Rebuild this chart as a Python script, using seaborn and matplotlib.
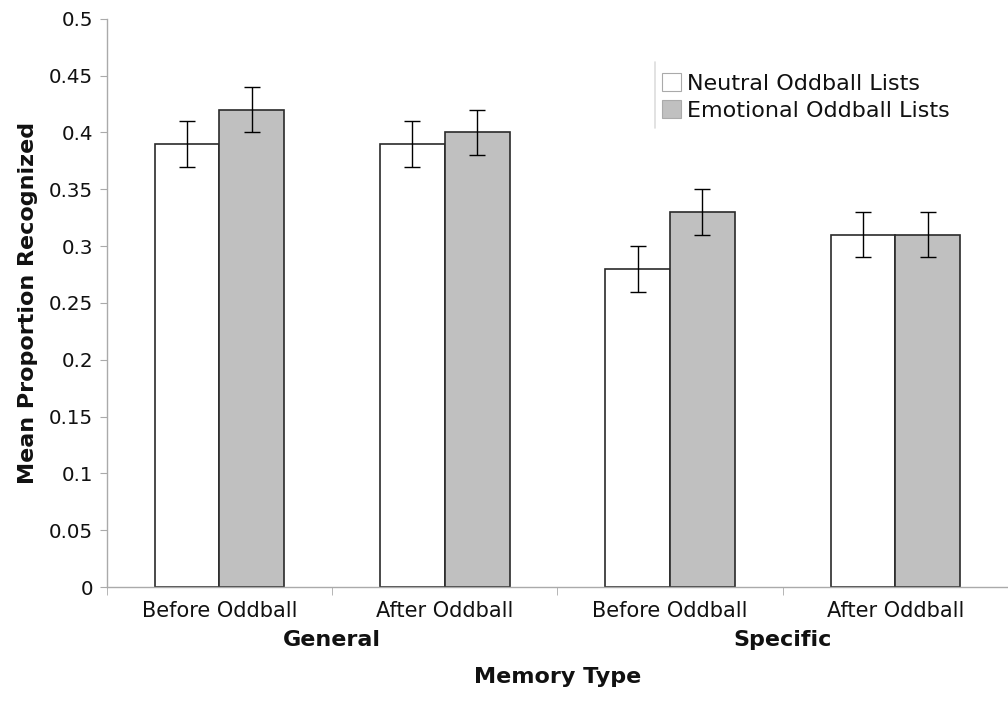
import matplotlib
matplotlib.use("Agg")
import matplotlib.pyplot as plt
import seaborn as sns
import pandas as pd
import numpy as np
from matplotlib.ticker import FixedLocator
from matplotlib.lines import Line2D

# ---------------------------
# Data
# ---------------------------
conditions = ["Before Oddball", "After Oddball", "Before Oddball ", "After Oddball "]
tick_labels = ["Before Oddball", "After Oddball", "Before Oddball", "After Oddball"]
groups = ["General", "Specific"]
series = ["Neutral Oddball Lists", "Emotional Oddball Lists"]
neutral = [0.39, 0.39, 0.28, 0.31]
emotional = [0.42, 0.40, 0.33, 0.31]
neutral_err = [0.02, 0.02, 0.02, 0.02]
emotional_err = [0.02, 0.02, 0.02, 0.02]

df = pd.DataFrame({
    "condition": conditions * 2,
    "list": [series[0]] * 4 + [series[1]] * 4,
    "value": neutral + emotional,
    "err": neutral_err + emotional_err,
})

# ---------------------------
# Plot
# ---------------------------
sns.set_style("white")
plt.rcParams["font.family"] = ["DejaVu Sans"]
plt.rcParams["text.color"] = "#111111"
plt.rcParams["axes.labelcolor"] = "#111111"
plt.rcParams["xtick.labelcolor"] = "#111111"
plt.rcParams["ytick.labelcolor"] = "#111111"

fig = plt.figure(figsize=(10.08, 7.23), dpi=100)
ax = fig.add_axes([0.106, 0.188, 0.894, 0.786])

sns.barplot(data=df, x="condition", y="value", hue="list",
            palette=["white", "#c0c0c0"], edgecolor="#2a2a2a", linewidth=1.2,
            width=0.575, gap=0, errorbar=None, ax=ax)

# error bars on the bar centres seaborn drew, in hue order
for container, s in zip(ax.containers, series):
    errs = df.loc[df["list"] == s, "err"].to_numpy()
    for p, e in zip(container.patches, errs):
        xc = p.get_x() + p.get_width() / 2
        ax.errorbar(xc, p.get_height(), yerr=e, fmt="none", ecolor="black",
                    elinewidth=1, capsize=6, capthick=1)

ax.set_ylim(0, 0.5)
ax.set_xlim(-0.5, 3.5)
ax.set_yticks(np.arange(0, 0.501, 0.05))
ax.set_yticklabels(["0", "0.05", "0.1", "0.15", "0.2", "0.25", "0.3",
                    "0.35", "0.4", "0.45", "0.5"], fontsize=14.3)
ax.tick_params(axis="y", length=5, color="#aaaaaa", pad=5, left=True)

ax.set_xticks(range(4))
ax.set_xticklabels(tick_labels, fontsize=15)
ax.xaxis.set_minor_locator(FixedLocator([-0.5, 0.5, 1.5, 2.5, 3.5]))
ax.tick_params(axis="x", which="major", length=0, pad=10)
ax.tick_params(axis="x", which="minor", length=6, color="#aaaaaa", bottom=True)

for side in ["top", "right"]:
    ax.spines[side].set_visible(False)
for side in ["left", "bottom"]:
    ax.spines[side].set_color("#aaaaaa")
    ax.spines[side].set_linewidth(1)

ax.set_xlabel("")
ax.set_ylabel("Mean Proportion Recognized", fontsize=16, fontweight="bold", labelpad=8)

# group labels under the tick labels
for i, g in enumerate(groups):
    ax.text(0.5 + 2 * i, -0.047, g, ha="center", va="center",
            fontsize=16, fontweight="bold")
ax.text(1.5, -0.0795, "Memory Type", ha="center", va="center",
        fontsize=16, fontweight="bold")

leg = ax.legend(loc="upper left", bbox_to_anchor=(0.5985, 0.932), frameon=False,
                fontsize=16, handlelength=0.85, handleheight=0.85,
                handletextpad=0.3, borderpad=0.2, labelspacing=0.3)
for h in leg.legend_handles:
    h.set_edgecolor("#aaaaaa")
    h.set_linewidth(0.8)

# thin grey rule on the legend's left side
fig.add_artist(Line2D([0.650, 0.650], [0.823, 0.914], color="#dddddd", linewidth=1.2))

fig.savefig("out.png", dpi=100)
